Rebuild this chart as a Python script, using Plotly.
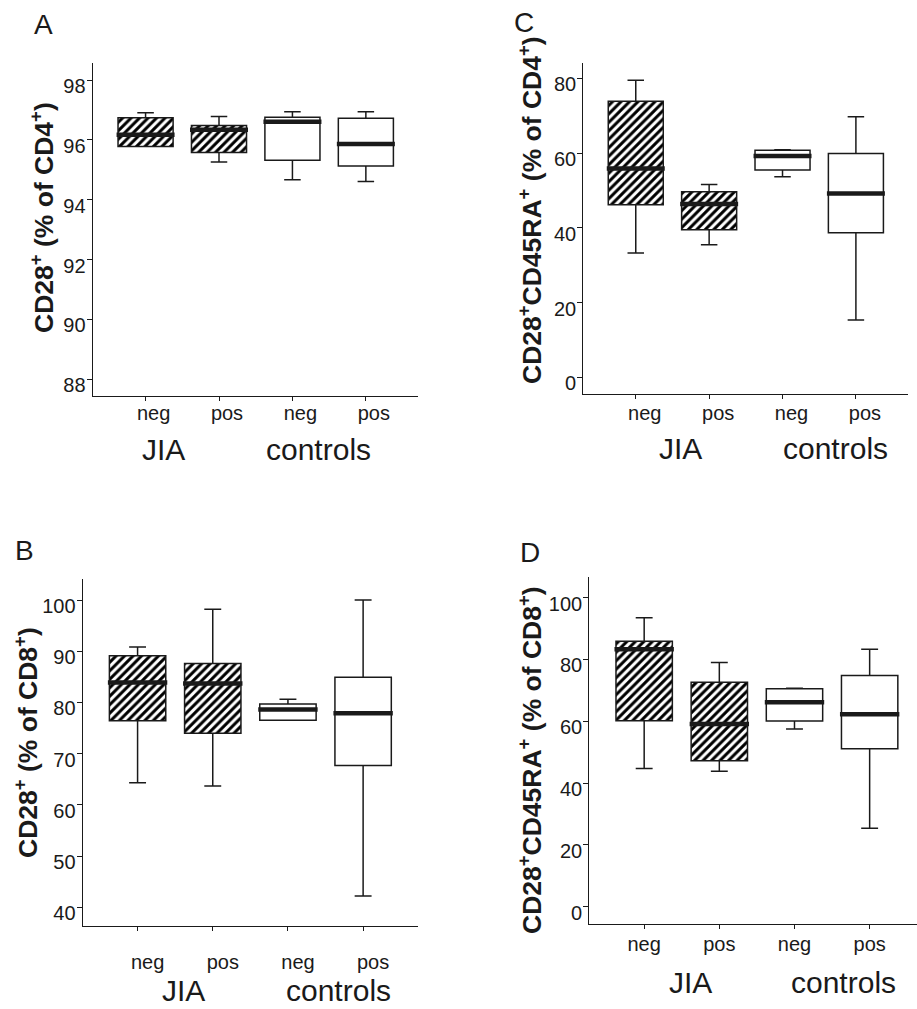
import plotly.graph_objects as go

# ---------------- data ----------------
categories = ["neg", "pos", "neg", "pos"]
groups = ["JIA", "controls"]
hatched = [True, True, False, False]

# Panel A: CD28+ (% of CD4+)
A_low = [95.78, 95.26, 94.67, 94.61]
A_q1 = [95.78, 95.58, 95.32, 95.13]
A_med = [96.17, 96.34, 96.61, 95.86]
A_q3 = [96.74, 96.48, 96.76, 96.72]
A_high = [96.91, 96.78, 96.94, 96.94]

# Panel B: CD28+ (% of CD8+)
B_low = [64.3, 63.7, 76.5, 42.2]
B_q1 = [76.4, 74.0, 76.5, 67.7]
B_med = [83.9, 83.7, 78.6, 77.9]
B_q3 = [89.1, 87.6, 79.7, 84.9]
B_high = [90.8, 98.2, 80.6, 100.0]

# Panel C: CD28+CD45RA+ (% of CD4+)
C_low = [33.3, 35.5, 53.7, 15.4]
C_q1 = [46.2, 39.5, 55.5, 38.7]
C_med = [55.9, 46.4, 59.2, 49.2]
C_q3 = [73.9, 49.7, 60.8, 59.9]
C_high = [79.5, 51.6, 60.9, 69.7]

# Panel D: CD28+CD45RA+ (% of CD8+)
D_low = [44.7, 43.8, 57.5, 25.4]
D_q1 = [60.2, 47.2, 60.1, 51.1]
D_med = [83.3, 59.1, 66.2, 62.3]
D_q3 = [85.9, 72.6, 70.5, 74.8]
D_high = [93.5, 79.0, 70.7, 83.3]

A_ticks = [88, 90, 92, 94, 96, 98]
B_ticks = [40, 50, 60, 70, 80, 90, 100]
C_ticks = [0, 20, 40, 60, 80]
D_ticks = [0, 20, 40, 60, 80, 100]

A_title = "<b>CD28<sup>+</sup> (% of CD4<sup>+</sup>)</b>"
B_title = "<b>CD28<sup>+</sup> (% of CD8<sup>+</sup>)</b>"
C_title = "<b>CD28<sup>+</sup>CD45RA<sup>+</sup> (% of CD4<sup>+</sup>)</b>"
D_title = "<b>CD28<sup>+</sup>CD45RA<sup>+</sup> (% of CD8<sup>+</sup>)</b>"

# ---------------- style / layout ----------------
W, H = 917, 1009
FONT = "Liberation Sans, Arial, Helvetica, sans-serif"
INK = "#1a1a1a"
BOXW = 0.75
pos = list(range(len(categories)))

panels = [
    dict(k="1", low=A_low, q1=A_q1, med=A_med, q3=A_q3, high=A_high, ticks=A_ticks, title=A_title,
         xpx=(92.7, 418), ypx=(63, 396), xr=[-0.72, 3.71], yr=[87.44, 98.57],
         letter="A", lpos=(43, 25), tpos=(42, 218), gpos=[(163, 449), (318, 449)], shift=8, stand=-5),
    dict(k="2", low=C_low, q1=C_q1, med=C_med, q3=C_q3, high=C_high, ticks=C_ticks, title=C_title,
         xpx=(583.3, 908), ypx=(63, 394.3), xr=[-0.715, 3.71], yr=[-4.5, 84.1],
         letter="C", lpos=(524, 22), tpos=(530, 210), gpos=[(680, 448), (835, 448)], shift=9, stand=-3),
    dict(k="3", low=B_low, q1=B_q1, med=B_med, q3=B_q3, high=B_high, ticks=B_ticks, title=B_title,
         xpx=(82.7, 418), ypx=(579, 925.7), xr=[-0.73, 3.73], yr=[36.4, 104.1],
         letter="B", lpos=(24, 550), tpos=(26, 743), gpos=[(183, None), (338, None)], shift=10, stand=14),
    dict(k="4", low=D_low, q1=D_q1, med=D_med, q3=D_q3, high=D_high, ticks=D_ticks, title=D_title,
         xpx=(589.3, 917), ypx=(577.3, 924.3), xr=[-0.73, 3.63], yr=[-5.7, 106.6],
         letter="D", lpos=(530, 552), tpos=(530, 760), gpos=[(690, 982), (843, 982)], shift=0, stand=-2),
]

fig = go.Figure()
layout = dict(width=W, height=H, margin=dict(l=0, r=0, t=0, b=0),
              paper_bgcolor="white", plot_bgcolor="white", showlegend=False,
              barmode="overlay", annotations=[],
              font=dict(family=FONT, color=INK, size=20))

for p in panels:
    k = p["k"]
    xa, ya = ("x" if k == "1" else "x" + k), ("y" if k == "1" else "y" + k)
    iqr = [b - a for a, b in zip(p["q1"], p["q3"])]
    # hatched / white box bodies
    fig.add_trace(go.Bar(
        x=pos, y=iqr, base=p["q1"], width=BOXW, xaxis=xa, yaxis=ya, hoverinfo="skip",
        marker=dict(color="white",
                    line=dict(width=0),
                    pattern=dict(shape=["/" if h else "" for h in hatched],
                                 fgcolor="#000000", bgcolor="white", fgopacity=1,
                                 size=6, solidity=0.5))))
    # box outline + whiskers
    fig.add_trace(go.Box(
        x=pos, q1=p["q1"], median=p["med"], q3=p["q3"],
        lowerfence=p["low"], upperfence=p["high"], width=BOXW,
        whiskerwidth=0.3, fillcolor="rgba(0,0,0,0)", boxpoints=False,
        line=dict(color=INK, width=1.5), xaxis=xa, yaxis=ya, hoverinfo="skip"))
    # thick median bars
    mx, my = [], []
    for xi, m in zip(pos, p["med"]):
        mx += [xi - BOXW / 2 - 0.02, xi + BOXW / 2 + 0.02, None]
        my += [m, m, None]
    fig.add_trace(go.Scatter(x=mx, y=my, mode="lines", line=dict(color=INK, width=4.5),
                             xaxis=xa, yaxis=ya, hoverinfo="skip"))

    xd = [p["xpx"][0] / W, min(p["xpx"][1] / W, 1.0)]
    yd = [1 - p["ypx"][1] / H, 1 - p["ypx"][0] / H]
    xkey = "xaxis" if k == "1" else "xaxis" + k
    ykey = "yaxis" if k == "1" else "yaxis" + k
    layout[xkey] = dict(domain=xd, range=p["xr"], anchor=ya, tickvals=pos, ticktext=categories,
                        showline=True, linecolor=INK, linewidth=1.3, ticks="outside",
                        ticklen=4, tickwidth=1.3, tickcolor=INK, showgrid=False, zeroline=False,
                        tickfont=dict(size=20, family=FONT, color=INK),
                        ticklabelshift=p["shift"], ticklabelstandoff=p["stand"])
    layout[ykey] = dict(domain=yd, range=p["yr"], anchor=xa, tickvals=p["ticks"],
                        showline=True, linecolor=INK, linewidth=1.3, ticks="outside",
                        ticklen=5, tickwidth=1.3, tickcolor=INK, showgrid=False, zeroline=False,
                        tickfont=dict(size=20, family=FONT, color=INK),
                        ticklabelshift=6, ticklabelstandoff=-3)
    ann = layout["annotations"]
    ann.append(dict(text=p["letter"], x=p["lpos"][0] / W, y=1 - p["lpos"][1] / H, xref="paper", yref="paper",
                    showarrow=False, xanchor="center", yanchor="middle", font=dict(size=28, family=FONT, color=INK)))
    ann.append(dict(text=p["title"], x=p["tpos"][0] / W, y=1 - p["tpos"][1] / H, xref="paper", yref="paper",
                    showarrow=False, textangle=-90, xanchor="center", yanchor="middle",
                    font=dict(size=26.5, family=FONT, color=INK)))
    for g, (gx, gy) in zip(groups, p["gpos"]):
        if gy is None:  # bottom row label sitting on the page edge
            ann.append(dict(text=g, x=gx / W, y=0, xref="paper", yref="paper", showarrow=False,
                            xanchor="center", yanchor="bottom", font=dict(size=30, family=FONT, color=INK)))
        else:
            ann.append(dict(text=g, x=gx / W, y=1 - gy / H, xref="paper", yref="paper", showarrow=False,
                            xanchor="center", yanchor="middle", font=dict(size=30, family=FONT, color=INK)))

fig.update_layout(**layout)
fig.write_html("out.html", config={"displayModeBar": False},
               post_script="document.body.style.margin='0px';document.body.style.padding='0px';")
